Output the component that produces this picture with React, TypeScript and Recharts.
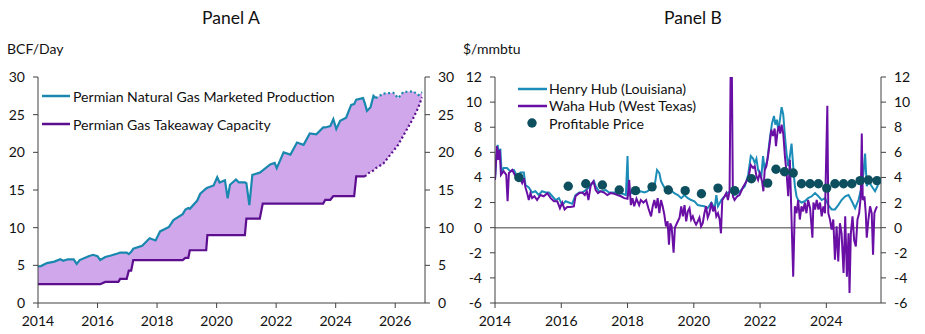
import React from 'react';
import {
  ComposedChart, Line, Area, Scatter, XAxis, YAxis, Legend, ReferenceLine,
} from 'recharts';

// ---------- Panel A data ----------
const A_YEARS = [
  2014.00, 2014.10, 2014.30, 2014.55, 2014.75, 2014.85, 2015.00, 2015.20, 2015.30, 2015.40,
  2015.70, 2015.85, 2016.00, 2016.09, 2016.26, 2016.45, 2016.70, 2016.76, 2016.98, 2017.05,
  2017.13, 2017.20, 2017.50, 2017.75, 2017.95, 2018.10, 2018.40, 2018.55, 2018.86, 2018.95,
  2019.05, 2019.10, 2019.35, 2019.45, 2019.65, 2019.69, 2019.90, 2020.02, 2020.10, 2020.28,
  2020.37, 2020.45, 2020.65, 2020.75, 2020.95, 2021.00, 2021.10, 2021.20, 2021.45, 2021.55,
  2021.80, 2021.95, 2022.02, 2022.25, 2022.48, 2022.70, 2022.92, 2023.13, 2023.35, 2023.58,
  2023.65, 2023.82, 2023.92, 2024.02, 2024.15, 2024.35, 2024.52, 2024.62, 2024.69, 2024.92,
  2024.98, 2025.05, 2025.17, 2025.27, 2025.35, 2025.60, 2025.94, 2026.10, 2026.27, 2026.60,
  2026.78, 2026.90,
];
const A_PRODUCTION = [
  4.85, 4.9, 5.3, 5.5, 5.8, 5.6, 5.8, 5.8, 5.2, 5.7,
  6.2, 6.4, 6.2, 5.7, 6.1, 6.3, 6.6, 6.7, 6.7, 6.5,
  6.8, 7.2, 7.6, 8.6, 8.3, 9.5, 10.1, 11.0, 11.8, 12.4,
  12.6, 12.5, 13.6, 14.5, 15.2, 15.3, 15.6, 16.7, 16.0, 16.3,
  13.9, 15.7, 16.4, 16.0, 16.0, 15.9, 13.0, 17.0, 17.3, 17.6,
  18.4, 18.6, 17.9, 20.0, 19.7, 21.3, 21.0, 22.5, 22.4, 23.3,
  23.3, 23.5, 24.4, 23.1, 24.2, 24.6, 26.3, 26.4, 27.0, 27.2,
  26.5, 25.5, 26.0, 27.5, 27.2, 27.8, 27.9, 27.2, 28.0, 28.1,
  27.6, 28.0,
];
const A_CAPACITY = [
  2.5, 2.5, 2.5, 2.5, 2.5, 2.5, 2.5, 2.5, 2.5, 2.5,
  2.5, 2.5, 2.5, 2.5, 2.8, 2.8, 2.8, 3.2, 3.2, 4.3,
  4.3, 5.7, 5.7, 5.7, 5.7, 5.7, 5.7, 5.7, 5.7, 6.0,
  6.0, 7.0, 7.0, 7.0, 7.0, 9.0, 9.0, 9.0, 9.0, 9.0,
  9.0, 9.0, 9.0, 9.0, 9.0, 11.2, 11.2, 11.2, 11.2, 13.2,
  13.2, 13.2, 13.2, 13.2, 13.2, 13.2, 13.2, 13.2, 13.2, 13.2,
  13.7, 13.7, 14.2, 14.2, 14.2, 14.2, 14.2, 14.2, 16.8, 16.8,
  16.8, 17.1, 17.4, 17.6, 17.9, 18.5, 20.2, 21.0, 22.2, 24.5,
  26.0, 27.3,
];
const A_PROD_LAST_ACTUAL = 2025.35;
const A_CAP_LAST_ACTUAL = 2024.98;
const A_TICKS_X = [2014, 2016, 2018, 2020, 2022, 2024, 2026];
const A_TICKS_Y = [0, 5, 10, 15, 20, 25, 30];

// ---------- Panel B data ----------
const HH_X = [
  2014.00, 2014.04, 2014.08, 2014.12, 2014.16, 2014.20, 2014.26, 2014.36, 2014.46, 2014.57,
  2014.67, 2014.77, 2014.87, 2014.92, 2015.02, 2015.12, 2015.22, 2015.32, 2015.42, 2015.53,
  2015.63, 2015.73, 2015.83, 2015.93, 2016.03, 2016.13, 2016.23, 2016.33, 2016.43, 2016.54,
  2016.64, 2016.74, 2016.84, 2016.94, 2016.99, 2017.04, 2017.14, 2017.24, 2017.34, 2017.44,
  2017.55, 2017.65, 2017.75, 2017.85, 2017.95, 2018.00, 2018.03, 2018.10, 2018.20, 2018.30,
  2018.40, 2018.51, 2018.61, 2018.71, 2018.81, 2018.89, 2018.96, 2019.01, 2019.11, 2019.21,
  2019.31, 2019.41, 2019.52, 2019.62, 2019.72, 2019.82, 2019.92, 2020.02, 2020.12, 2020.22,
  2020.32, 2020.42, 2020.53, 2020.63, 2020.68, 2020.73, 2020.83, 2020.93, 2021.03, 2021.13,
  2021.23, 2021.33, 2021.43, 2021.54, 2021.64, 2021.72, 2021.79, 2021.84, 2021.89, 2021.94,
  2021.99, 2022.04, 2022.09, 2022.14, 2022.22, 2022.29, 2022.36, 2022.42, 2022.46, 2022.51,
  2022.55, 2022.60, 2022.65, 2022.70, 2022.75, 2022.80, 2022.85, 2022.90, 2022.95, 2023.00,
  2023.05, 2023.10, 2023.15, 2023.25, 2023.35, 2023.45, 2023.56, 2023.66, 2023.76, 2023.86,
  2023.96, 2024.06, 2024.16, 2024.26, 2024.36, 2024.46, 2024.57, 2024.67, 2024.77, 2024.87,
  2024.97, 2025.07, 2025.12, 2025.17, 2025.22, 2025.27, 2025.37, 2025.47, 2025.56,
];
const HH_V = [
  3.8, 5.7, 6.6, 5.4, 6.3, 4.4, 4.75, 4.75, 4.5, 4.6,
  4.1, 4.4, 4.4, 3.4, 3.2, 2.8, 2.9, 2.6, 2.9, 2.8,
  2.8, 2.5, 2.2, 2.35, 1.8, 2.1, 2.0, 1.9, 2.6, 2.8,
  2.8, 3.0, 3.2, 3.55, 3.7, 3.3, 2.9, 2.9, 3.0, 2.8,
  2.8, 2.8, 2.75, 2.7, 2.6, 5.7, 2.6, 2.75, 2.8, 2.75,
  2.9, 2.8, 2.9, 3.2, 3.2, 4.6, 4.35, 3.7, 3.2, 3.0,
  3.0, 2.75, 2.6, 2.35, 2.6, 2.35, 2.2, 2.1, 1.8, 1.75,
  1.7, 1.55, 2.0, 1.55, 2.6, 1.7, 2.2, 2.5, 2.8, 2.9,
  2.6, 2.75, 3.0, 3.3, 4.2, 5.7, 5.5, 5.15, 5.5, 4.6,
  4.35, 4.1, 5.7, 4.6, 5.4, 7.0, 8.3, 8.9, 8.2, 8.6,
  7.7, 8.6, 9.6, 9.0, 7.3, 5.9, 4.9, 5.7, 6.7, 4.9,
  3.3, 2.5, 2.2, 2.0, 2.1, 2.35, 2.5, 2.75, 2.5, 2.2,
  2.35, 1.8, 1.45, 1.45, 1.8, 2.2, 2.5, 2.6, 2.1, 1.55,
  2.2, 3.3, 4.35, 5.9, 3.3, 3.7, 3.3, 2.9, 3.4,
];
const WAHA_X = [
  2014.00, 2014.06, 2014.10, 2014.14, 2014.18, 2014.26, 2014.34, 2014.38, 2014.42, 2014.52,
  2014.62, 2014.72, 2014.82, 2014.87, 2014.92, 2014.97, 2015.02, 2015.07, 2015.12, 2015.19,
  2015.27, 2015.37, 2015.47, 2015.58, 2015.68, 2015.78, 2015.88, 2015.96, 2016.03, 2016.10,
  2016.18, 2016.28, 2016.38, 2016.43, 2016.54, 2016.64, 2016.71, 2016.77, 2016.82, 2016.89,
  2016.97, 2017.04, 2017.11, 2017.19, 2017.29, 2017.39, 2017.49, 2017.60, 2017.70, 2017.80,
  2017.90, 2018.00, 2018.05, 2018.10, 2018.15, 2018.20, 2018.27, 2018.35, 2018.40, 2018.48,
  2018.56, 2018.63, 2018.71, 2018.76, 2018.81, 2018.86, 2018.91, 2018.96, 2019.01, 2019.06,
  2019.11, 2019.16, 2019.21, 2019.25, 2019.29, 2019.33, 2019.39, 2019.43, 2019.49, 2019.57,
  2019.62, 2019.67, 2019.72, 2019.77, 2019.82, 2019.87, 2019.92, 2019.97, 2020.02, 2020.07,
  2020.12, 2020.17, 2020.22, 2020.27, 2020.32, 2020.37, 2020.42, 2020.47, 2020.53, 2020.58,
  2020.63, 2020.68, 2020.73, 2020.78, 2020.82, 2020.86, 2020.93, 2020.98, 2021.03, 2021.08,
  2021.11, 2021.15, 2021.18, 2021.23, 2021.31, 2021.38, 2021.48, 2021.59, 2021.66, 2021.72,
  2021.79, 2021.84, 2021.89, 2021.94, 2021.99, 2022.06, 2022.10, 2022.14, 2022.19, 2022.24,
  2022.29, 2022.34, 2022.39, 2022.44, 2022.48, 2022.53, 2022.57, 2022.61, 2022.65, 2022.70,
  2022.75, 2022.80, 2022.85, 2022.90, 2022.95, 2023.00, 2023.05, 2023.10, 2023.15, 2023.20,
  2023.25, 2023.30, 2023.35, 2023.40, 2023.45, 2023.51, 2023.58, 2023.61, 2023.66, 2023.71,
  2023.76, 2023.81, 2023.86, 2023.91, 2023.96, 2024.03, 2024.06, 2024.11, 2024.16, 2024.21,
  2024.26, 2024.31, 2024.36, 2024.41, 2024.46, 2024.52, 2024.57, 2024.62, 2024.67, 2024.70,
  2024.74, 2024.79, 2024.84, 2024.89, 2024.94, 2024.99, 2025.04, 2025.07, 2025.10, 2025.15,
  2025.19, 2025.22, 2025.27, 2025.32, 2025.37, 2025.41, 2025.45, 2025.49, 2025.53,
];
const WAHA_V = [
  3.8, 6.5, 5.4, 6.2, 4.2, 4.5, 4.2, 2.1, 4.35, 4.6,
  4.1, 4.1, 3.55, 3.95, 3.2, 2.75, 2.2, 2.75, 2.35, 2.5,
  2.2, 2.6, 2.5, 2.75, 2.35, 2.1, 2.1, 1.55, 2.0, 1.45,
  1.65, 1.65, 1.7, 2.5, 2.75, 2.8, 2.6, 2.9, 2.2, 3.4,
  3.7, 3.0, 2.75, 2.9, 2.8, 2.6, 2.75, 2.7, 2.6, 2.5,
  2.35, 2.3, 3.8, 1.8, 2.35, 1.7, 2.3, 1.8, 2.2, 2.0,
  2.2, 1.55, 0.9, 1.7, 2.2, 1.55, 2.35, 1.15, 2.2, 1.7,
  1.05, 0.1, 0.5, -1.35, 0.35, 0.1, -2.0, 0.0, 0.35, 0.8,
  1.7, 0.9, 1.8, 0.5, 1.3, 1.55, 0.65, 0.9, 0.5, 0.25,
  0.5, 0.8, 0.1, 0.35, 1.15, 1.7, 0.8, 1.15, 2.0, 1.3,
  1.7, 0.9, 1.15, 0.65, -0.45, 2.2, 2.5, 2.75, 2.2, 2.9,
  12, 12, 2.5, 2.2, 2.5, 2.6, 3.2, 3.7, 4.1, 5.0,
  4.75, 4.9, 4.1, 3.8, 4.35, 3.7, 2.9, 4.6, 4.9, 5.7,
  6.7, 7.8, 7.3, 7.9, 6.5, 7.7, 8.1, 7.5, 8.2, 7.5,
  5.7, 4.35, 2.5, 5.4, 0.65, -3.9, 1.7, 1.15, 2.2, 0.65,
  1.7, 1.3, 2.0, 1.15, 2.2, 1.55, -0.8, 2.0, 1.45, 2.2,
  1.45, 2.0, 0.9, 1.7, 1.15, 9.7, 1.15, 0.65, -0.15, 0.65,
  -2.55, 0.1, -2.7, 0.35, -0.45, -3.6, 0.9, -3.9, -0.45, -5.2,
  -0.45, 0.9, -1.0, -1.5, 0.65, 1.15, 2.5, 7.5, 2.2, 2.5,
  1.15, -0.8, 0.65, 1.7, 1.15, -2.15, 1.15, 1.45, 1.7,
];
const PROFIT_X = [
  2014.72, 2016.21, 2016.74, 2017.24, 2017.75, 2018.24, 2018.74, 2019.23, 2019.74, 2020.23,
  2020.73, 2021.23, 2021.74, 2022.23, 2022.48, 2022.74, 2023.00, 2023.25, 2023.51, 2023.76,
  2024.01, 2024.26, 2024.52, 2024.77, 2025.02, 2025.27, 2025.53,
];
const PROFIT_V = [
  4.0, 3.3, 3.5, 3.4, 3.0, 2.95, 3.25, 3.0, 2.95, 2.7,
  3.15, 2.95, 3.9, 3.55, 4.65, 4.45, 4.35, 3.5, 3.5, 3.5,
  3.15, 3.5, 3.5, 3.5, 3.75, 3.8, 3.75,
];
const B_TICKS_X = [2014, 2016, 2018, 2020, 2022, 2024];
const B_TICKS_Y = [-6, -4, -2, 0, 2, 4, 6, 8, 10, 12];

// ---------- styling ----------
const FONT = 'Lato, "Open Sans", sans-serif';
const AXIS = '#404040';
const C_PROD = '#1a88ae';
const C_CAP = '#5c0e8f';
const C_FILL = '#cfa7ea';
const C_HH = '#1b8db8';
const C_WAHA = '#6a0fa5';
const C_DOT = '#0d4f5f';

const tickStyle = { fontSize: 14, fill: '#111', fontFamily: FONT };

const tableA = A_YEARS.map((x, i) => ({
  x,
  prodActual: x <= A_PROD_LAST_ACTUAL ? A_PRODUCTION[i] : null,
  prodFcst: x >= A_PROD_LAST_ACTUAL ? A_PRODUCTION[i] : null,
  capActual: x <= A_CAP_LAST_ACTUAL ? A_CAPACITY[i] : null,
  capFcst: x >= A_CAP_LAST_ACTUAL ? A_CAPACITY[i] : null,
  band: [A_CAPACITY[i], A_PRODUCTION[i]],
}));

const mapB = new Map<number, any>();
HH_X.forEach((x, i) => {
  const r = mapB.get(x) || { x };
  r.hh = HH_V[i];
  mapB.set(x, r);
});
WAHA_X.forEach((x, i) => {
  const r = mapB.get(x) || { x };
  r.waha = WAHA_V[i];
  mapB.set(x, r);
});
const tableB = Array.from(mapB.values()).sort((a, b) => a.x - b.x);
const profitRows = PROFIT_X.map((x, i) => ({ x, p: PROFIT_V[i] }));

const LegendA = () => (
  <div style={{ fontFamily: FONT, fontSize: 14.1, color: '#111' }}>
    {[
      { c: C_PROD, t: 'Permian Natural Gas Marketed Production' },
      { c: C_CAP, t: 'Permian Gas Takeaway Capacity' },
    ].map((r) => (
      <div key={r.t} style={{ display: 'flex', alignItems: 'center', height: 28.3, whiteSpace: 'nowrap' }}>
        <svg width={31} height={10} style={{ display: 'block' }}>
          <line x1={0} x2={28} y1={5} y2={5} stroke={r.c} strokeWidth={2.5} />
        </svg>
        <span>{r.t}</span>
      </div>
    ))}
  </div>
);

const LegendB = () => (
  <div style={{ fontFamily: FONT, fontSize: 14.2, color: '#111' }}>
    {[
      { c: C_HH, t: 'Henry Hub (Louisiana)', dot: false },
      { c: C_WAHA, t: 'Waha Hub (West Texas)', dot: false },
      { c: C_DOT, t: 'Profitable Price', dot: true },
    ].map((r) => (
      <div key={r.t} style={{ display: 'flex', alignItems: 'center', height: 17.3, whiteSpace: 'nowrap' }}>
        <svg width={31} height={12} style={{ display: 'block' }}>
          {r.dot ? (
            <circle cx={14} cy={6} r={4.7} fill={r.c} />
          ) : (
            <line x1={0} x2={29} y1={6} y2={6} stroke={r.c} strokeWidth={2.5} />
          )}
        </svg>
        <span>{r.t}</span>
      </div>
    ))}
  </div>
);

const textBase: React.CSSProperties = {
  position: 'absolute', fontFamily: FONT, color: '#111', whiteSpace: 'nowrap', lineHeight: 1,
};

export default function App() {
  return (
    <div style={{ position: 'absolute', left: 0, top: 0, width: 925, height: 334, background: '#fff', overflow: 'hidden' }}>
      <div style={{ ...textBase, left: 0, width: 462, top: 9, fontSize: 17.5, textAlign: 'center' }}>Panel A</div>
      <div style={{ ...textBase, left: 7, top: 42, fontSize: 14 }}>BCF/Day</div>
      <div style={{ ...textBase, left: 462, width: 462, top: 9, fontSize: 17.5, textAlign: 'center' }}>Panel B</div>
      <div style={{ ...textBase, left: 463, top: 42, fontSize: 14 }}>$/mmbtu</div>

      <div style={{ position: 'absolute', left: 0, top: 0 }}>
        <ComposedChart width={460} height={334} data={tableA} margin={{ top: 77, right: 0, bottom: 1, left: 0 }}>
          <XAxis
            dataKey="x" type="number" domain={[2014, 2027]} ticks={A_TICKS_X} allowDataOverflow
            height={30} tickSize={5} tickMargin={8} tick={tickStyle}
            axisLine={{ stroke: AXIS }} tickLine={{ stroke: AXIS }}
          />
          <YAxis
            yAxisId="left" domain={[0, 30]} ticks={A_TICKS_Y} allowDataOverflow width={38}
            tickSize={5} tickMargin={8} tick={tickStyle} axisLine={{ stroke: AXIS }} tickLine={{ stroke: AXIS }}
          />
          <YAxis
            yAxisId="right" orientation="right" domain={[0, 30]} ticks={A_TICKS_Y} allowDataOverflow width={35}
            tickSize={5} tickMargin={8} tick={tickStyle} axisLine={{ stroke: AXIS }} tickLine={{ stroke: AXIS }}
          />
          <Area yAxisId="left" dataKey="band" type="linear" stroke="none" fill={C_FILL} fillOpacity={1} isAnimationActive={false} />
          <Line yAxisId="left" dataKey="capActual" type="linear" stroke={C_CAP} strokeWidth={2.2} dot={false} isAnimationActive={false} />
          <Line yAxisId="left" dataKey="capFcst" type="linear" stroke={C_CAP} strokeWidth={2.2} strokeDasharray="2 2.5" dot={false} isAnimationActive={false} />
          <Line yAxisId="left" dataKey="prodActual" type="linear" stroke={C_PROD} strokeWidth={2.2} dot={false} isAnimationActive={false} />
          <Line yAxisId="left" dataKey="prodFcst" type="linear" stroke={C_PROD} strokeWidth={2.2} strokeDasharray="2 2.5" dot={false} isAnimationActive={false} />
          <Legend
            layout="vertical" align="center" verticalAlign="middle"
            wrapperStyle={{ left: 42, top: 82, width: 340, height: 60 }}
            content={() => <LegendA />}
          />
        </ComposedChart>
      </div>

      <div style={{ position: 'absolute', left: 460, top: 0 }}>
        <ComposedChart width={465} height={334} data={tableB} margin={{ top: 77, right: 0, bottom: 1, left: 0 }}>
          <XAxis
            dataKey="x" type="number" domain={[2014, 2025.65]} ticks={B_TICKS_X} allowDataOverflow
            height={30} tickSize={5} tickMargin={8} tick={tickStyle}
            axisLine={{ stroke: AXIS }} tickLine={{ stroke: AXIS }}
          />
          <YAxis
            yAxisId="left" domain={[-6, 12]} ticks={B_TICKS_Y} allowDataOverflow width={35}
            tickSize={5} tickMargin={8} tick={tickStyle} axisLine={{ stroke: AXIS }} tickLine={{ stroke: AXIS }}
          />
          <YAxis
            yAxisId="right" orientation="right" domain={[-6, 12]} ticks={B_TICKS_Y} allowDataOverflow width={44}
            tickSize={5} tickMargin={8} tick={tickStyle} axisLine={{ stroke: AXIS }} tickLine={{ stroke: AXIS }}
          />
          <ReferenceLine yAxisId="left" y={0} stroke="#7f7f7f" strokeWidth={1.5} />
          <Line yAxisId="left" dataKey="hh" type="linear" stroke={C_HH} strokeWidth={2} dot={false} connectNulls isAnimationActive={false} />
          <Line yAxisId="left" dataKey="waha" type="linear" stroke={C_WAHA} strokeWidth={2} dot={false} connectNulls isAnimationActive={false} />
          <Scatter
            yAxisId="left" data={profitRows} dataKey="p" fill={C_DOT} isAnimationActive={false}
            shape={(p: any) => <circle cx={p.cx} cy={p.cy} r={4.7} fill={C_DOT} />}
          />
          <Legend
            layout="vertical" align="center" verticalAlign="middle"
            wrapperStyle={{ left: 58, top: 80, width: 220, height: 52 }}
            content={() => <LegendB />}
          />
        </ComposedChart>
      </div>
    </div>
  );
}
